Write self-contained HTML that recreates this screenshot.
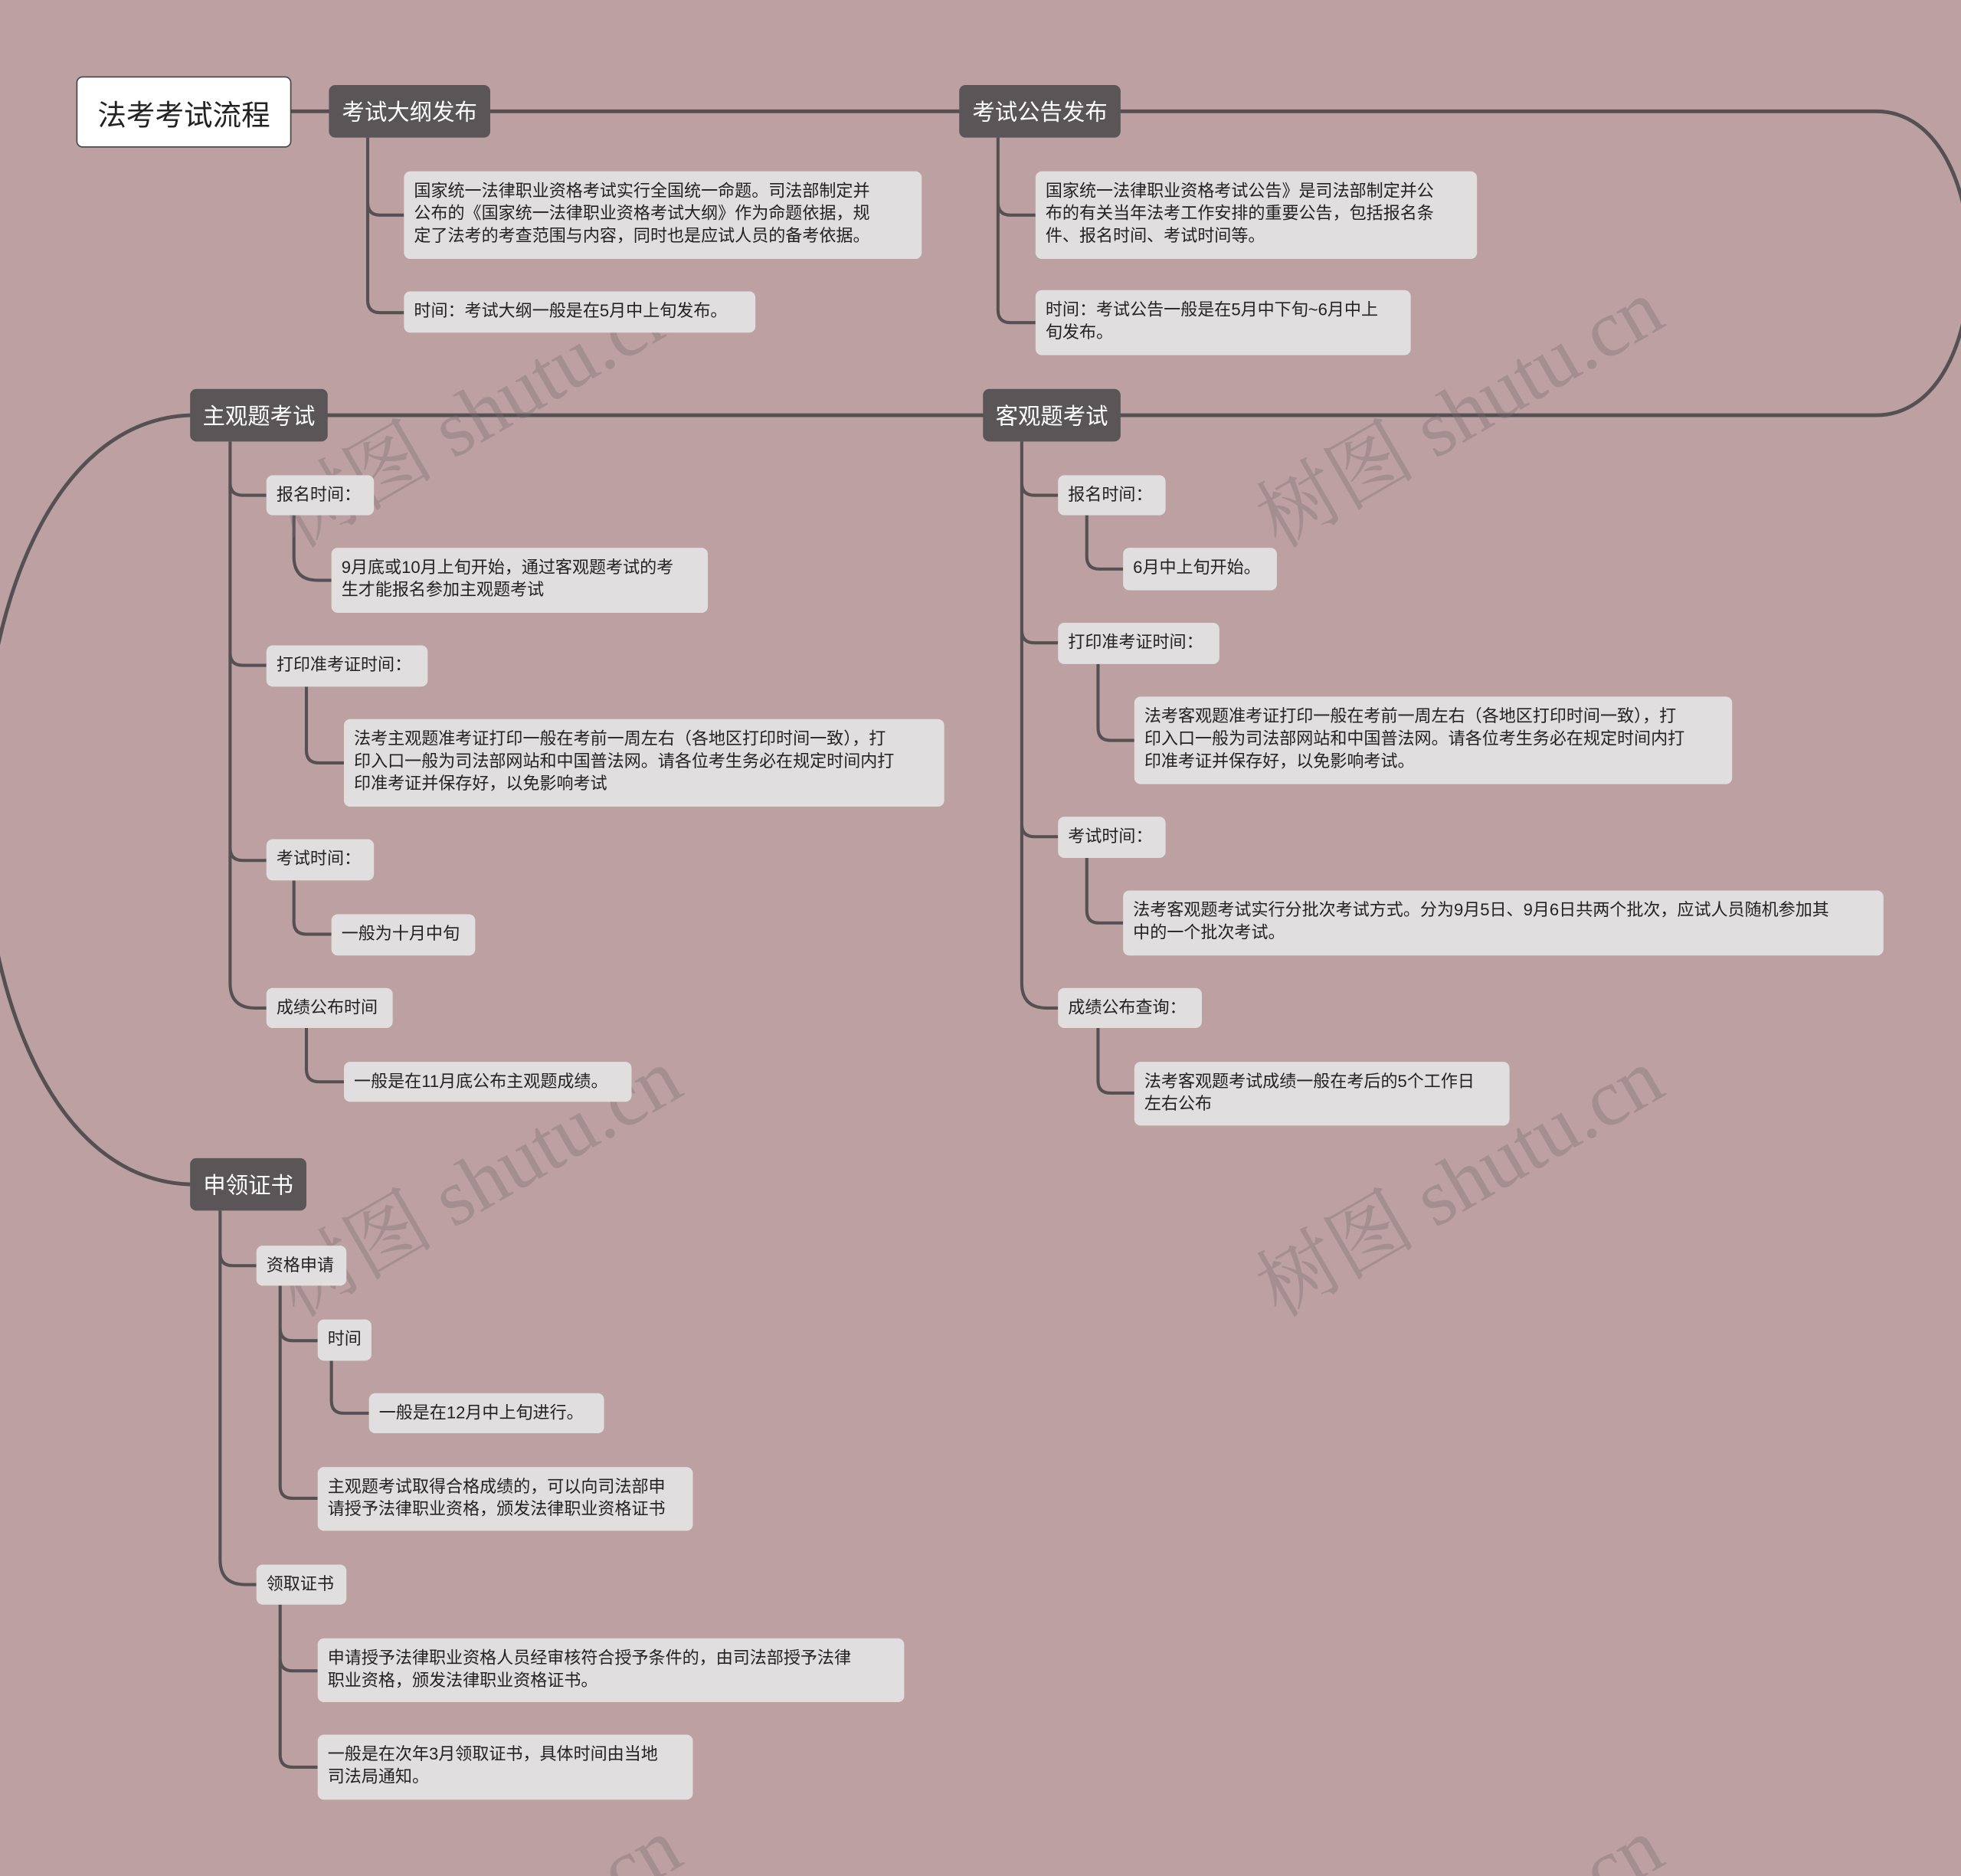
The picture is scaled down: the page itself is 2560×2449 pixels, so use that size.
<!DOCTYPE html>
<html><head><meta charset="utf-8"><style>
html,body{margin:0;padding:0;width:2560px;height:2449px;overflow:hidden;}
body{background:#bca0a2;position:relative;}
#w{position:absolute;left:0;top:0;width:1568px;height:1500px;overflow:hidden;transform:scale(1.63265);transform-origin:0 0;font-family:"Liberation Sans","Noto Sans CJK SC",sans-serif;}
.n{position:absolute;box-sizing:border-box;background:#5a5556;color:#fff;border-radius:5px;font-size:18px;display:flex;align-items:center;justify-content:center;}
.l{position:absolute;box-sizing:border-box;background:#e0dede;color:#222;border-radius:5px;font-size:13.5px;line-height:18px;padding:7px 8px;white-space:nowrap;}
.wm{position:absolute;font-family:"Liberation Serif","Noto Serif CJK SC",serif;font-size:64px;color:rgba(120,110,112,0.35);transform:rotate(-30deg);white-space:nowrap;}
svg{position:absolute;left:0;top:0;}
</style></head><body><div id="w">
<svg width="1568" height="1500" fill="none" stroke="#555052" stroke-width="3">
<path d="M232,89 H1500 C1600,89 1600,332 1500,332 H152"/>
<path d="M152,332 C-70,340 -70,940 152,947"/>
<g stroke-width="2.5">
<path d="M294,110 V162 Q294,172 304,172 H323 M294,160 V240 Q294,250 304,250 H323"/>
<path d="M798,110 V162 Q798,172 808,172 H828 M798,160 V248 Q798,258 808,258 H828"/>
<path d="M184,353 V786 Q184,806 204,806 H213 M184,386 Q184,396 194,396 H213 M184,522 Q184,532 194,532 H213 M184,678 Q184,688 194,688 H213"/>
<path d="M235,412 V445 Q235,464 254,464 H265 M245,549 V600 Q245,610 255,610 H275 M235,704 V737 Q235,747 245,747 H265 M245,822 V855 Q245,865 255,865 H275"/>
<path d="M817,353 V786 Q817,806 837,806 H846 M817,386 Q817,396 827,396 H846 M817,504 Q817,514 827,514 H846 M817,659 Q817,669 827,669 H846"/>
<path d="M869,412 V445 Q869,455 879,455 H898 M878,531 V582 Q878,592 888,592 H907 M869,686 V728 Q869,738 879,738 H898 M878,822 V864 Q878,874 888,874 H907"/>
<path d="M176,968 V1247 Q176,1267 196,1267 H205 M176,1002 Q176,1012 186,1012 H205"/>
<path d="M224,1028 V1188 Q224,1198 234,1198 H254 M224,1062 Q224,1072 234,1072 H254 M265,1088 V1120 Q265,1130 275,1130 H295"/>
<path d="M224,1283 V1403 Q224,1413 234,1413 H254 M224,1326 Q224,1336 234,1336 H254"/>
</g></svg>
<div class="wm" style="left:200px;top:280px">树图 shutu.cn</div>
<div class="wm" style="left:985px;top:280px">树图 shutu.cn</div>
<div class="wm" style="left:200px;top:895px">树图 shutu.cn</div>
<div class="wm" style="left:985px;top:895px">树图 shutu.cn</div>
<div class="wm" style="left:200px;top:1510px">树图 shutu.cn</div>
<div class="wm" style="left:985px;top:1510px">树图 shutu.cn</div>
<div class="n" style="left:61px;top:61px;width:172px;height:57px;background:#fff;color:#222;border:1.5px solid #444;font-size:23px;">法考考试流程</div>
<div class="n" style="left:263px;top:68px;width:129px;height:42px">考试大纲发布</div>
<div class="n" style="left:767px;top:68px;width:129px;height:42px">考试公告发布</div>
<div class="n" style="left:152px;top:311px;width:110px;height:42px">主观题考试</div>
<div class="n" style="left:786px;top:311px;width:110px;height:42px">客观题考试</div>
<div class="n" style="left:152px;top:926px;width:93px;height:42px">申领证书</div>
<div class="l" style="left:323px;top:137px;width:414px;height:70px">国家统一法律职业资格考试实行全国统一命题。司法部制定并<br>公布的《国家统一法律职业资格考试大纲》作为命题依据，规<br>定了法考的考查范围与内容，同时也是应试人员的备考依据。</div>
<div class="l" style="left:323px;top:233px;width:281px;height:33px">时间：考试大纲一般是在5月中上旬发布。</div>
<div class="l" style="left:828px;top:137px;width:353px;height:70px">国家统一法律职业资格考试公告》是司法部制定并公<br>布的有关当年法考工作安排的重要公告，包括报名条<br>件、报名时间、考试时间等。</div>
<div class="l" style="left:828px;top:232px;width:300px;height:52px">时间：考试公告一般是在5月中下旬~6月中上<br>旬发布。</div>
<div class="l" style="left:213px;top:380px;width:86px;height:32px">报名时间：</div>
<div class="l" style="left:265px;top:438px;width:301px;height:52px">9月底或10月上旬开始，通过客观题考试的考<br>生才能报名参加主观题考试</div>
<div class="l" style="left:213px;top:516px;width:129px;height:33px">打印准考证时间：</div>
<div class="l" style="left:275px;top:575px;width:480px;height:70px">法考主观题准考证打印一般在考前一周左右（各地区打印时间一致），打<br>印入口一般为司法部网站和中国普法网。请各位考生务必在规定时间内打<br>印准考证并保存好，以免影响考试</div>
<div class="l" style="left:213px;top:671px;width:86px;height:33px">考试时间：</div>
<div class="l" style="left:265px;top:731px;width:115px;height:33px">一般为十月中旬</div>
<div class="l" style="left:213px;top:790px;width:101px;height:32px">成绩公布时间</div>
<div class="l" style="left:275px;top:849px;width:230px;height:32px">一般是在11月底公布主观题成绩。</div>
<div class="l" style="left:846px;top:380px;width:86px;height:32px">报名时间：</div>
<div class="l" style="left:898px;top:438px;width:123px;height:34px">6月中上旬开始。</div>
<div class="l" style="left:846px;top:498px;width:129px;height:33px">打印准考证时间：</div>
<div class="l" style="left:907px;top:557px;width:478px;height:70px">法考客观题准考证打印一般在考前一周左右（各地区打印时间一致），打<br>印入口一般为司法部网站和中国普法网。请各位考生务必在规定时间内打<br>印准考证并保存好，以免影响考试。</div>
<div class="l" style="left:846px;top:653px;width:86px;height:33px">考试时间：</div>
<div class="l" style="left:898px;top:712px;width:608px;height:52px">法考客观题考试实行分批次考试方式。分为9月5日、9月6日共两个批次，应试人员随机参加其<br>中的一个批次考试。</div>
<div class="l" style="left:846px;top:790px;width:115px;height:32px">成绩公布查询：</div>
<div class="l" style="left:907px;top:849px;width:300px;height:51px">法考客观题考试成绩一般在考后的5个工作日<br>左右公布</div>
<div class="l" style="left:205px;top:996px;width:72px;height:32px">资格申请</div>
<div class="l" style="left:254px;top:1055px;width:43px;height:33px">时间</div>
<div class="l" style="left:295px;top:1114px;width:188px;height:32px">一般是在12月中上旬进行。</div>
<div class="l" style="left:254px;top:1173px;width:300px;height:51px">主观题考试取得合格成绩的，可以向司法部申<br>请授予法律职业资格，颁发法律职业资格证书</div>
<div class="l" style="left:205px;top:1251px;width:72px;height:32px">领取证书</div>
<div class="l" style="left:254px;top:1310px;width:469px;height:51px">申请授予法律职业资格人员经审核符合授予条件的，由司法部授予法律<br>职业资格，颁发法律职业资格证书。</div>
<div class="l" style="left:254px;top:1387px;width:300px;height:52px">一般是在次年3月领取证书，具体时间由当地<br>司法局通知。</div>
</div></body></html>
